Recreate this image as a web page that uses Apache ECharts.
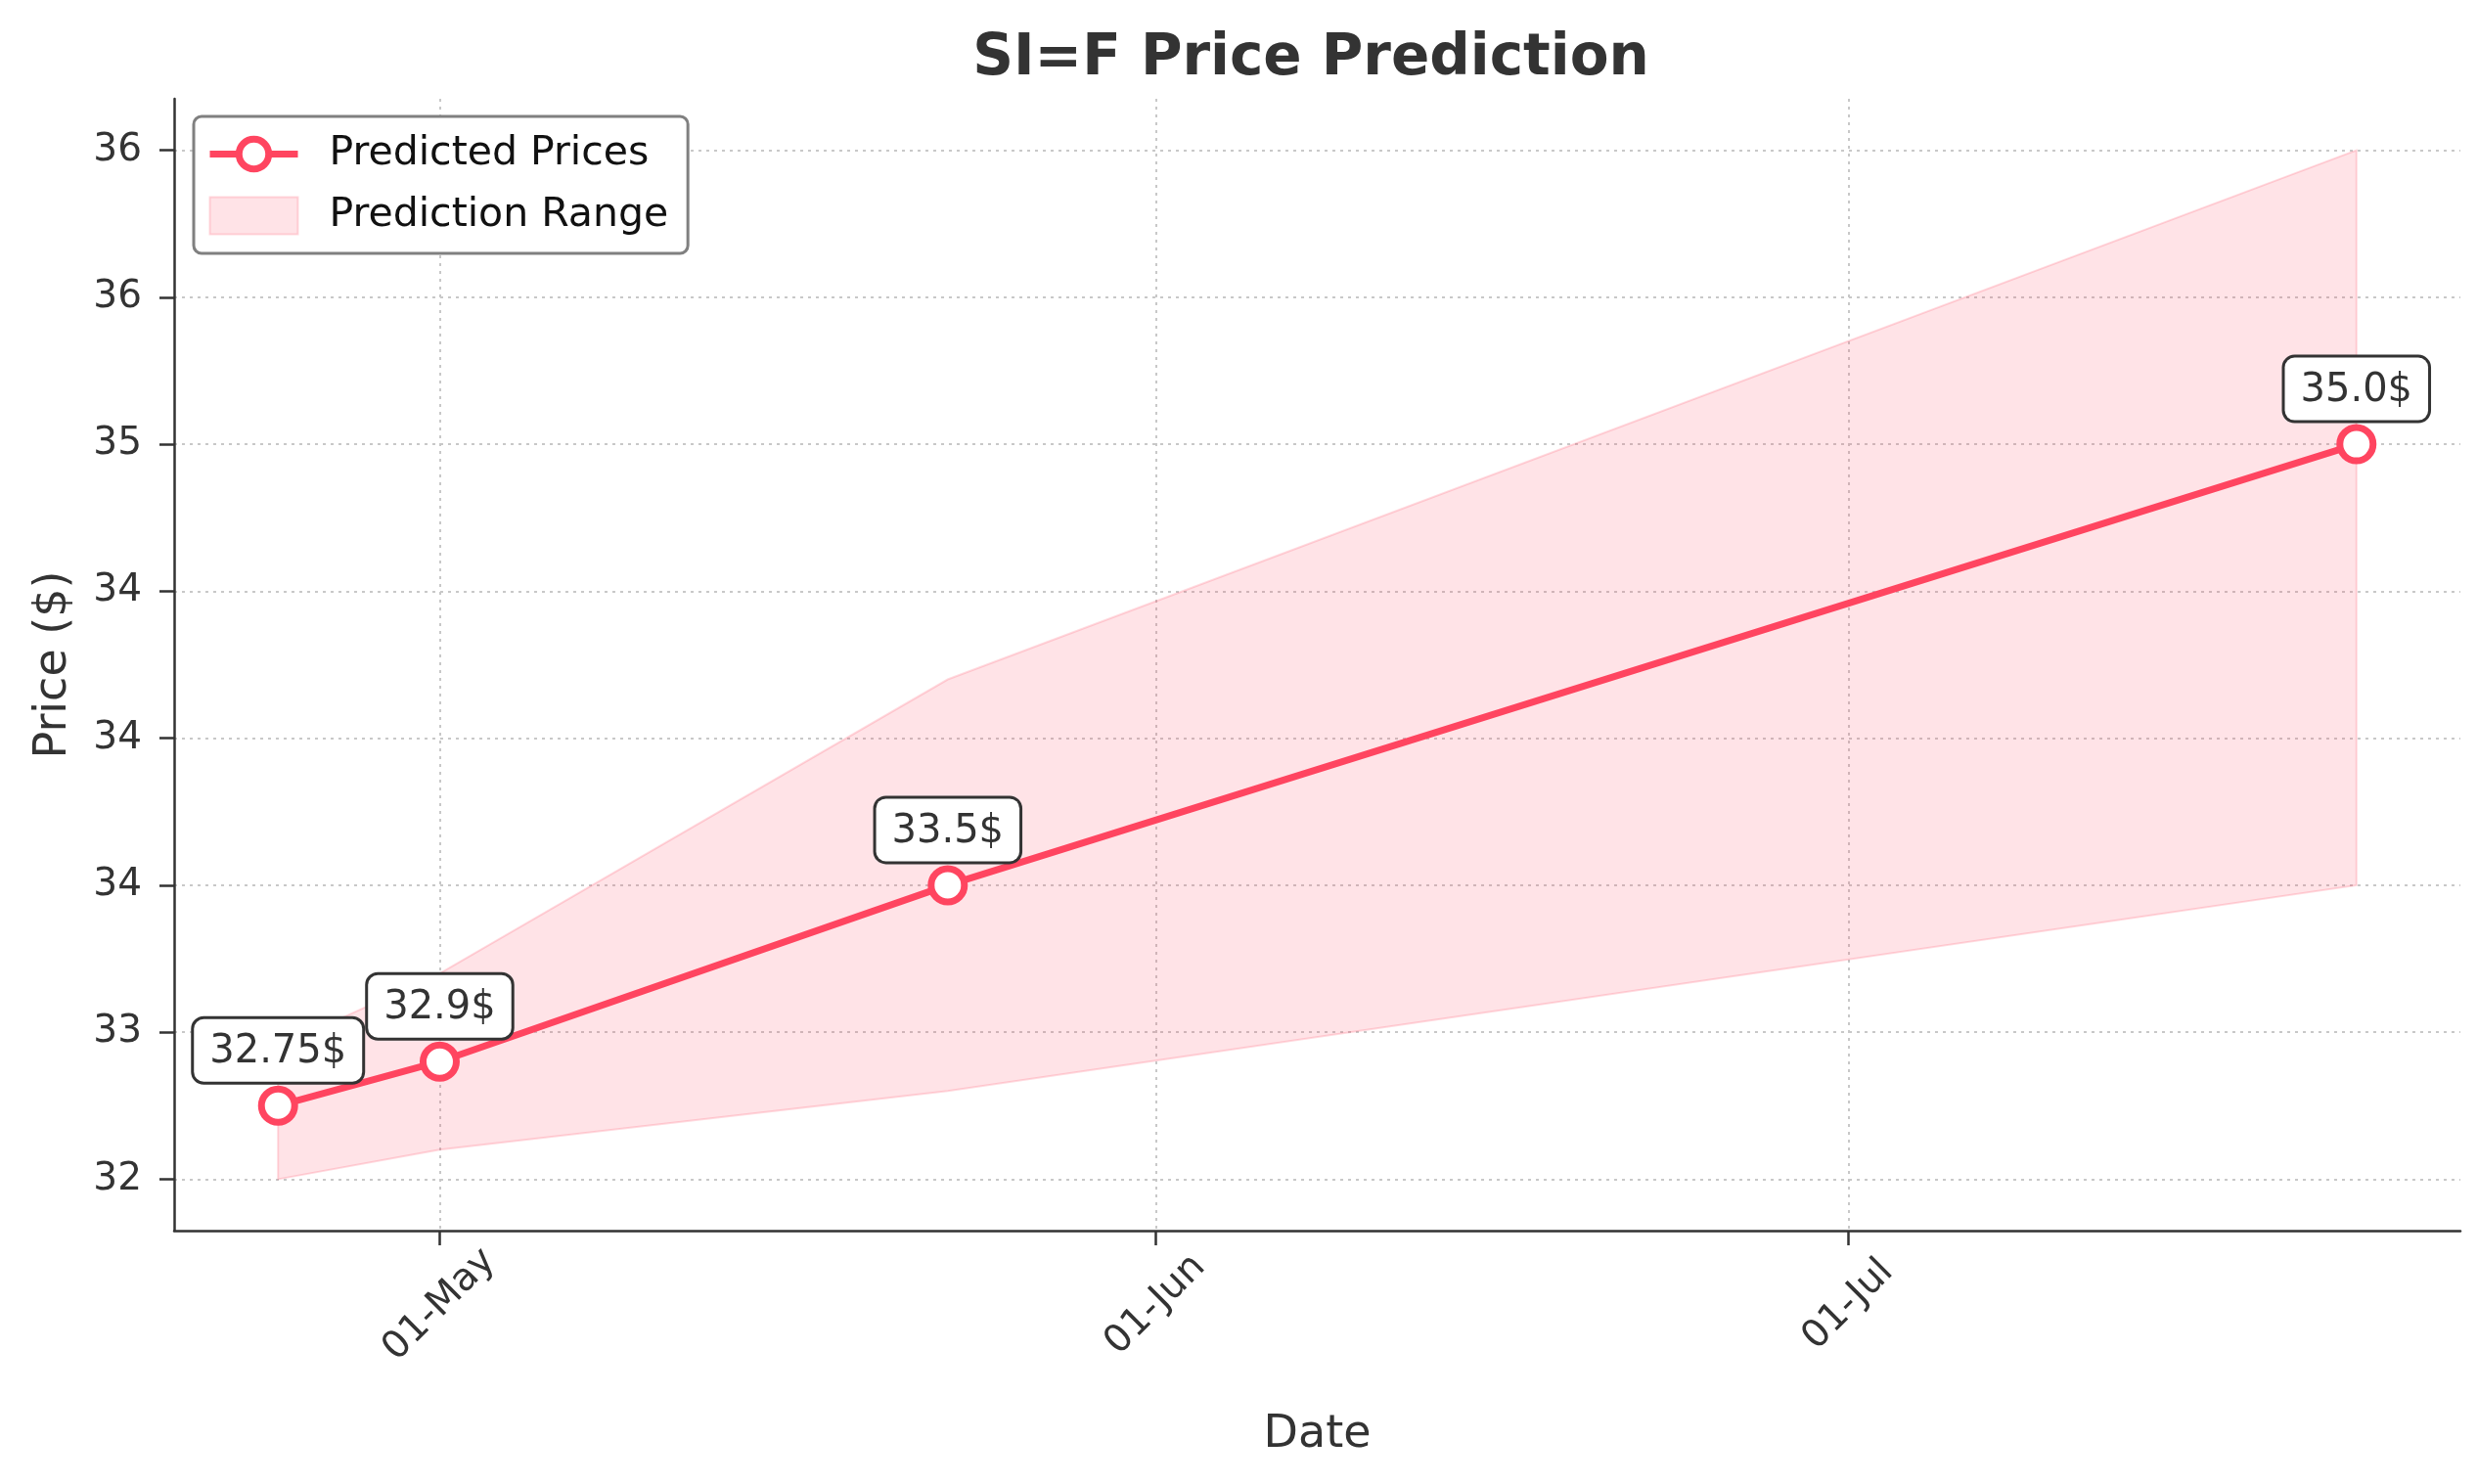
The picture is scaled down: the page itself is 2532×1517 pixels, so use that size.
<!DOCTYPE html>
<html>

<head>
  <meta charset="UTF-8">
  <title>SI=F Price Prediction</title>
  <script src="https://cdn.jsdelivr.net/npm/echarts@6/dist/echarts.min.js"></script>
  <style>
    html, body {
      margin: 0;
      padding: 0;
      background: #fff;
    }

    #chart {
      width: 2532px;
      height: 1517px;
    }
  </style>
</head>

<body>
  <div id="chart"></div>
  <script>
    // data
    const dates = ['2025-04-24', '2025-05-01', '2025-05-23', '2025-07-23'];
    const predicted = [32.75, 32.9, 33.5, 35.0];
    const lower = [32.5, 32.6, 32.8, 33.5];
    const upper = [32.95, 33.2, 34.2, 36.0];
    const annotations = ['32.75$', '32.9$', '33.5$', '35.0$'];

    const xTickDates = ['2025-05-01', '2025-06-01', '2025-07-01'];
    const xTickLabels = ['01-May', '01-Jun', '01-Jul'];
    const yTicks = [32.5, 33, 33.5, 34, 34.5, 35, 35.5, 36];
    const yTickLabels = ['32', '33', '34', '34', '34', '35', '36', '36'];

    const lineColor = '#ff4560';
    const bandColor = 'rgba(255, 69, 96, 0.15)';
    const bandEdge = 'rgba(255, 69, 96, 0.2)';
    const textColor = '#333';
    const font = 'DejaVu Sans';

    // dates as plain day timestamps on a linear axis
    function ts(s) {
      return new Date(s + 'T00:00:00Z').getTime();
    }

    const times = dates.map(ts);
    const xTicks = xTickDates.map(ts);

    // matplotlib style 5% margins
    const xPad = (times[times.length - 1] - times[0]) * 0.05;
    const yLo = Math.min(...lower), yHi = Math.max(...upper);
    const yPad = (yHi - yLo) * 0.05;

    const chart = echarts.init(document.getElementById('chart'));

    // shaded range between lower and upper, drawn once as one polygon
    function renderBand(params, api) {
      if (params.dataIndex !== 0) return;
      const top = times.map((t, i) => api.coord([t, upper[i]]));
      const bottom = times.map((t, i) => api.coord([t, lower[i]])).reverse();
      return {
        type: 'polygon',
        shape: { points: top.concat(bottom) },
        style: { fill: bandColor, stroke: bandEdge, lineWidth: 2 }
      };
    }

    const option = {
      backgroundColor: '#fff',
      animation: false,
      textStyle: { fontFamily: font },
      title: {
        text: 'SI=F Price Prediction',
        left: 1335,
        textAlign: 'center',
        top: 27,
        textStyle: { fontFamily: font, fontSize: 58, fontWeight: 'bold', color: textColor }
      },
      legend: {
        orient: 'vertical',
        left: 198,
        top: 119,
        padding: [18, 20, 18, 13],
        itemWidth: 90,
        itemHeight: 38,
        itemGap: 22,
        backgroundColor: '#fff',
        borderColor: '#808080',
        borderWidth: 3,
        borderRadius: 8,
        textStyle: { fontFamily: font, fontSize: 41, color: '#111', padding: [0, 0, 0, 27] },
        data: [
          {
            name: 'Predicted Prices',
            lineStyle: { color: lineColor, width: 7 },
            itemStyle: { color: '#fff', borderColor: lineColor, borderWidth: 7 }
          },
          {
            name: 'Prediction Range',
            icon: 'rect',
            itemStyle: { color: bandColor, borderColor: bandEdge, borderWidth: 2 }
          }
        ]
      },
      grid: { left: 178, right: 17, top: 101, bottom: 259 },
      xAxis: {
        type: 'value',
        min: times[0] - xPad,
        max: times[times.length - 1] + xPad,
        name: 'Date',
        nameLocation: 'middle',
        nameGap: 186,
        nameTextStyle: { fontFamily: font, fontSize: 46, color: textColor },
        axisLine: { show: true, lineStyle: { color: textColor, width: 2.5 } },
        axisTick: { show: true, length: 15, lineStyle: { color: textColor, width: 2.5 }, customValues: xTicks },
        axisLabel: {
          customValues: xTicks,
          rotate: 45,
          align: 'center',
          verticalAlign: 'middle',
          margin: 76,
          fontFamily: font,
          fontSize: 39,
          color: textColor,
          formatter: v => xTickLabels[xTicks.indexOf(v)] || ''
        },
        splitLine: { show: true, lineStyle: { color: '#c8c8c8', width: 2, type: [3, 5] } }
      },
      yAxis: {
        type: 'value',
        min: yLo - yPad,
        max: yHi + yPad,
        name: 'Price ($)',
        nameLocation: 'middle',
        nameGap: 100,
        nameTextStyle: { fontFamily: font, fontSize: 46, color: textColor },
        axisLine: { show: true, lineStyle: { color: textColor, width: 2.5 } },
        axisTick: { show: true, length: 15, lineStyle: { color: textColor, width: 2.5 }, customValues: yTicks },
        axisLabel: {
          customValues: yTicks,
          margin: 33,
          fontFamily: font,
          fontSize: 39,
          color: textColor,
          formatter: v => yTickLabels[yTicks.indexOf(v)] || ''
        },
        splitLine: { show: true, lineStyle: { color: '#c8c8c8', width: 2, type: [3, 5] } }
      },
      series: [
        {
          name: 'Prediction Range',
          type: 'custom',
          renderItem: renderBand,
          data: times.map((t, i) => [t, lower[i], upper[i]]),
          encode: { x: 0, y: [1, 2] },
          itemStyle: { color: bandColor },
          silent: true,
          z: 1
        },
        {
          name: 'Predicted Prices',
          type: 'line',
          data: times.map((t, i) => [t, predicted[i]]),
          symbol: 'circle',
          symbolSize: 34,
          lineStyle: { color: lineColor, width: 7 },
          itemStyle: { color: '#fff', borderColor: lineColor, borderWidth: 7 },
          label: {
            show: true,
            position: 'top',
            distance: 4,
            formatter: p => annotations[p.dataIndex],
            fontFamily: font,
            fontSize: 40,
            color: textColor,
            backgroundColor: '#fff',
            borderColor: textColor,
            borderWidth: 3,
            borderRadius: 10,
            padding: [14, 16, 10, 16]
          },
          z: 5
        }
      ]
    };

    chart.setOption(option);
  </script>
</body>

</html>
